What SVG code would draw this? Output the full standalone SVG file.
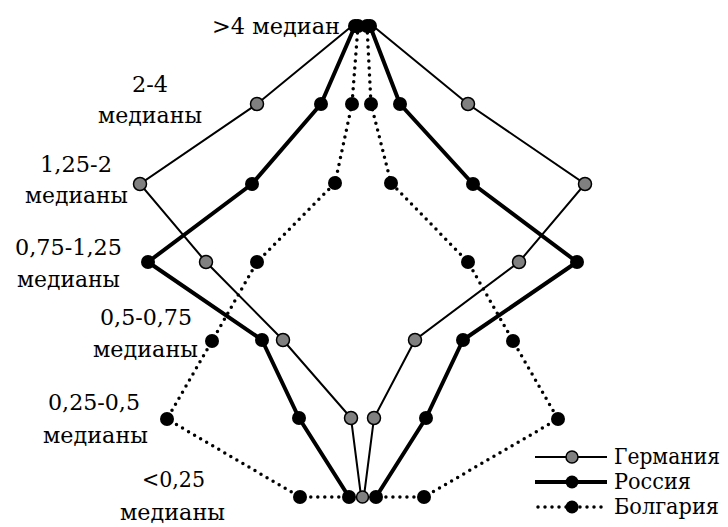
<svg xmlns="http://www.w3.org/2000/svg" width="728" height="527" viewBox="0 0 728 527">
<style>
.lbl{font-family:'DejaVu Serif',serif;font-size:22px;fill:#000}
.leg{font-family:'DejaVu Serif',serif;font-size:22px;fill:#000}
.ger{fill:none;stroke:#000;stroke-width:2}
.rus{fill:none;stroke:#000;stroke-width:4;stroke-linejoin:round}
.bul{fill:none;stroke:#000;stroke-width:3.5;stroke-dasharray:0 7;stroke-linecap:round}
.gc{fill:#808080;stroke:#000;stroke-width:1.5}
.bc{fill:#000}
</style>
<rect width="728" height="527" fill="#fff"/>
<g id="connectors">
<polyline class="ger" points="352,26 257,104 140,184 206,262 283,340 351,418 361,496"/>
<polyline class="ger" points="373,26 468,104 585,184 519,262 415,340 374,418 364,496"/>
<polyline class="rus" points="355,26 321,104 252,184 148,262 262,340 299,418 349,497"/>
<polyline class="rus" points="370,26 400,104 473,184 577,262 463,340 426,418 376,497"/>
<polyline class="bul" points="358,26 352,104 335,183 257,262 212,341 167,419 300,497 349,497"/>
<polyline class="bul" points="367,26 371,104 391,183 468,262 513,341 558,419 424,497 376,497"/>
</g>
<g id="russia">
<circle class="bc" cx="355" cy="26" r="7"/><circle class="bc" cx="370" cy="26" r="7"/>
<circle class="bc" cx="321" cy="104" r="7"/><circle class="bc" cx="400" cy="104" r="7"/>
<circle class="bc" cx="252" cy="184" r="7"/><circle class="bc" cx="473" cy="184" r="7"/>
<circle class="bc" cx="148" cy="262" r="7"/><circle class="bc" cx="577" cy="262" r="7"/>
<circle class="bc" cx="262" cy="340" r="7"/><circle class="bc" cx="463" cy="340" r="7"/>
<circle class="bc" cx="299" cy="418" r="7"/><circle class="bc" cx="426" cy="418" r="7"/>
<circle class="bc" cx="349" cy="497" r="7"/><circle class="bc" cx="376" cy="497" r="7"/>
</g>
<g id="bulgaria">
<circle class="bc" cx="358" cy="26" r="7"/><circle class="bc" cx="367" cy="26" r="7"/>
<circle class="bc" cx="352" cy="104" r="7"/><circle class="bc" cx="371" cy="104" r="7"/>
<circle class="bc" cx="335" cy="183" r="7"/><circle class="bc" cx="391" cy="183" r="7"/>
<circle class="bc" cx="257" cy="262" r="7"/><circle class="bc" cx="468" cy="262" r="7"/>
<circle class="bc" cx="212" cy="341" r="7"/><circle class="bc" cx="513" cy="341" r="7"/>
<circle class="bc" cx="167" cy="419" r="7"/><circle class="bc" cx="558" cy="419" r="7"/>
<circle class="bc" cx="300" cy="497" r="7"/><circle class="bc" cx="424" cy="497" r="7"/>
</g>
<g id="germany">
<circle class="gc" cx="257" cy="104" r="6.5"/><circle class="gc" cx="468" cy="104" r="6.5"/>
<circle class="gc" cx="140" cy="184" r="6.5"/><circle class="gc" cx="585" cy="184" r="6.5"/>
<circle class="gc" cx="206" cy="262" r="6.5"/><circle class="gc" cx="519" cy="262" r="6.5"/>
<circle class="gc" cx="283" cy="340" r="6.5"/><circle class="gc" cx="415" cy="340" r="6.5"/>
<circle class="gc" cx="351" cy="418" r="6.5"/><circle class="gc" cx="374" cy="418" r="6.5"/>
<circle class="gc" cx="362.5" cy="497" r="6"/>
</g>
<g id="labels">
<text class="lbl" x="212" y="34" textLength="128" lengthAdjust="spacingAndGlyphs">&gt;4 медиан</text>
<text class="lbl" x="132" y="92" textLength="36" lengthAdjust="spacingAndGlyphs">2-4</text>
<text class="lbl" x="98" y="123" textLength="104" lengthAdjust="spacingAndGlyphs">медианы</text>
<text class="lbl" x="40" y="172" textLength="72" lengthAdjust="spacingAndGlyphs">1,25-2</text>
<text class="lbl" x="25" y="203" textLength="103" lengthAdjust="spacingAndGlyphs">медианы</text>
<text class="lbl" x="15" y="255" textLength="107" lengthAdjust="spacingAndGlyphs">0,75-1,25</text>
<text class="lbl" x="17" y="287" textLength="103" lengthAdjust="spacingAndGlyphs">медианы</text>
<text class="lbl" x="100" y="325" textLength="92" lengthAdjust="spacingAndGlyphs">0,5-0,75</text>
<text class="lbl" x="93" y="357" textLength="105" lengthAdjust="spacingAndGlyphs">медианы</text>
<text class="lbl" x="48" y="410" textLength="92" lengthAdjust="spacingAndGlyphs">0,25-0,5</text>
<text class="lbl" x="43" y="443" textLength="105" lengthAdjust="spacingAndGlyphs">медианы</text>
<text class="lbl" x="142" y="487" textLength="63" lengthAdjust="spacingAndGlyphs">&lt;0,25</text>
<text class="lbl" x="120" y="520" textLength="105" lengthAdjust="spacingAndGlyphs">медианы</text>
</g>
<g id="legend">
<line class="ger" x1="535" y1="457" x2="607" y2="457"/>
<circle class="gc" cx="572" cy="457" r="6"/>
<text class="leg" x="614" y="464" textLength="106" lengthAdjust="spacingAndGlyphs">Германия</text>
<line class="rus" x1="535" y1="482" x2="607" y2="482"/>
<circle class="bc" cx="572" cy="482" r="6.5"/>
<text class="leg" x="614" y="489" textLength="77" lengthAdjust="spacingAndGlyphs">Россия</text>
<line class="bul" x1="538" y1="507" x2="607" y2="507"/>
<circle class="bc" cx="572" cy="507" r="6.5"/>
<text class="leg" x="614" y="514" textLength="105" lengthAdjust="spacingAndGlyphs">Болгария</text>
</g>
</svg>
